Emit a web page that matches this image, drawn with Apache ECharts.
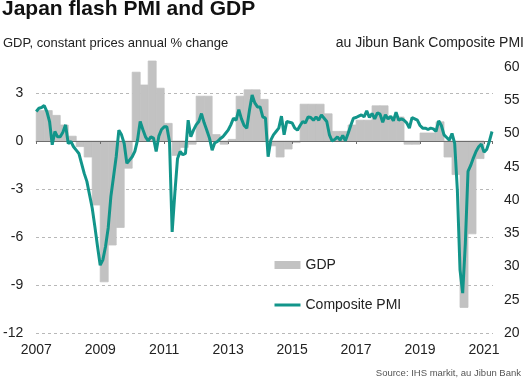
<!DOCTYPE html>
<html><head><meta charset="utf-8">
<script src="https://cdn.jsdelivr.net/npm/echarts@6/dist/echarts.min.js"></script>
<style>html,body{margin:0;padding:0;background:#fff}#c{width:531px;height:387px}</style>
</head><body><div id="c"></div>
<script>
// ---- texts ----
const chartTitle = 'Japan flash PMI and GDP';
const leftAxisTitle = 'GDP, constant prices annual % change';
const rightAxisTitle = 'au Jibun Bank Composite PMI';
const sourceText = 'Source: IHS markit, au Jibun Bank';
const gdpName = 'GDP';
const pmiName = 'Composite PMI';

// ---- time ----
const firstYear = 2007;           // PMI monthly from Jan 2007, GDP quarterly from 2007 Q1
const yearTicks = [2007, 2009, 2011, 2013, 2015, 2017, 2019, 2021];

// ---- axis ticks ----
const gdpTicks = [-12, -9, -6, -3, 0, 3];
const pmiTicks = [20, 25, 30, 35, 40, 45, 50, 55, 60];

// ---- GDP, constant prices annual % change (quarterly) ----
const gdpValues = [
  1.9, 1.9, 1.6, 1.0,      // 2007
  0.3, -0.35, -1.0, -4.0,  // 2008
  -8.8, -6.5, -5.4, -1.7,  // 2009
  4.3, 3.5, 5.0, 3.3,      // 2010
  1.1, -0.9, -0.4, -0.2,   // 2011
  2.8, 2.8, 0.4, -0.2,     // 2012
  0.1, 2.8, 3.2, 3.2,      // 2013
  2.6, -0.3, -1.0, -0.5,   // 2014
  -0.1, 2.3, 2.3, 2.3,     // 2015
  1.7, 0.6, 0.6, 1.0,      // 2016
  1.3, 1.3, 2.2, 2.2,      // 2017
  1.5, 1.5, -0.2, -0.2,    // 2018
  0.5, 0.5, 1.2, -1.0,     // 2019
  -2.1, -10.4, -5.8, -1.1  // 2020
];

// ---- au Jibun Bank Composite PMI (monthly) ----
const pmiValues = [
  53.3, 53.8, 53.9, 54.2, 53.3, 51.8, 48.3, 50.3, 49.5, 49.5, 50.2, 51.3, // 2007
  48.5, 48.8, 48.0, 47.5, 47.0, 45.5, 44.0, 42.8, 40.8, 38.8, 36.0, 33.0, // 2008
  30.2, 31.0, 33.0, 35.8, 40.5, 43.5, 46.5, 50.5, 49.8, 48.5, 45.5, 46.0, // 2009
  46.5, 47.3, 49.0, 51.8, 50.6, 49.5, 48.9, 49.5, 49.3, 47.3, 49.6, 50.6, // 2010
  51.0, 51.0, 48.8, 35.2, 41.0, 46.2, 47.3, 46.8, 47.0, 52.0, 49.5, 50.5, // 2011
  51.3, 51.8, 53.0, 51.6, 50.5, 49.3, 47.5, 48.6, 48.8, 49.2, 49.5, 50.0, // 2012
  50.5, 51.3, 52.3, 52.0, 53.6, 52.2, 51.2, 50.8, 53.5, 55.8, 54.6, 54.0, // 2013
  54.0, 52.5, 52.3, 46.5, 49.0, 49.8, 50.3, 50.8, 52.6, 49.8, 51.8, 51.7, // 2014
  51.6, 50.8, 50.5, 51.2, 51.8, 51.6, 52.5, 52.4, 52.0, 52.5, 52.0, 52.8, // 2015
  52.3, 51.8, 49.8, 48.9, 49.1, 49.5, 49.0, 49.7, 48.9, 50.0, 51.2, 52.3, // 2016
  52.4, 52.6, 52.8, 52.5, 53.4, 52.4, 53.0, 52.2, 53.1, 52.9, 51.7, 52.8, // 2017
  52.2, 52.6, 51.9, 53.2, 52.0, 52.2, 52.0, 51.6, 50.8, 52.4, 52.2, 52.0, // 2018
  51.2, 50.8, 50.8, 50.6, 50.8, 50.7, 50.3, 51.9, 51.2, 49.8, 49.4, 49.0, // 2019
  50.0, 48.5, 41.5, 29.5, 26.0, 33.5, 44.3, 45.2, 46.3, 47.3, 48.0, 48.4, // 2020
  47.2, 47.6, 48.8, 50.3                                                  // 2021
];

// ---- build library data ----
const pmiData = pmiValues.map((v, i) => [firstYear + i / 12, v]);
const gdpData = gdpValues.map((v, i) => [firstYear + i / 4, firstYear + (i + 1) / 4, v]);
const xMin = yearTicks[0];
const xMax = firstYear + (pmiValues.length - 1) / 12;

const FONT = '"Liberation Sans", Arial, sans-serif';
const TXT = '#222';
const GDP_COLOR = '#c2c2c2';
const PMI_COLOR = '#12958a';

const chart = echarts.init(document.getElementById('c'), null, {renderer: 'canvas'});
chart.setOption({
  animation: false,
  backgroundColor: '#fff',
  textStyle: {fontFamily: FONT},
  title: [
    {text: chartTitle, left: 2, top: -1, padding: 0,
     textStyle: {fontSize: 21, fontWeight: 'bold', color: '#111', fontFamily: FONT}},
    {text: leftAxisTitle, left: 3, top: 37, padding: 0,
     textStyle: {fontSize: 13, fontWeight: 'normal', color: TXT, fontFamily: FONT}},
    {text: rightAxisTitle, right: 7, top: 36, padding: 0,
     textStyle: {fontSize: 14, fontWeight: 'normal', color: TXT, fontFamily: FONT}},
    {text: sourceText, right: 10, top: 368, padding: 0,
     textStyle: {fontSize: 9.5, fontWeight: 'normal', color: '#555', fontFamily: FONT}}
  ],
  legend: {
    orient: 'vertical', left: 273, top: 258, padding: 0,
    itemWidth: 26, itemHeight: 8, itemGap: 26, itemTextGap: 4,
    selectedMode: false,
    textStyle: {fontSize: 14, color: TXT, fontFamily: FONT},
    data: [
      {name: gdpName, icon: 'rect', itemStyle: {color: GDP_COLOR}},
      {name: pmiName, itemStyle: {opacity: 0}, lineStyle: {width: 3, color: PMI_COLOR}}
    ]
  },
  grid: [
    {left: 36, right: 39, top: 61, bottom: 54, containLabel: false},
    {left: 36, right: 38, top: 93, bottom: 54, containLabel: false}
  ],
  xAxis: [
    { // zero line with ticks
      type: 'value', gridIndex: 0, min: xMin, max: xMax, interval: 2, z: 2,
      axisLine: {show: true, onZero: true, onZeroAxisIndex: 0, lineStyle: {color: '#6e6e6e', width: 1}},
      axisTick: {show: true, length: 3, lineStyle: {color: '#6e6e6e'}},
      axisLabel: {show: false}, splitLine: {show: false}
    },
    { // year labels at bottom
      type: 'value', gridIndex: 0, position: 'bottom', min: xMin, max: xMax, interval: 2,
      axisLine: {show: false, onZero: false}, axisTick: {show: false}, splitLine: {show: false},
      axisLabel: {show: true, margin: 10, fontSize: 14, color: TXT, fontFamily: FONT,
                  showMaxLabel: false, formatter: v => String(Math.round(v))}
    },
    { type: 'value', gridIndex: 1, min: xMin, max: xMax, show: false }
  ],
  yAxis: [
    { // GDP (left)
      type: 'value', gridIndex: 0, position: 'left', min: gdpTicks[0], max: 5, interval: 3,
      axisLine: {show: false}, axisTick: {show: false}, splitLine: {show: false},
      axisLabel: {margin: 13, fontSize: 14, color: TXT, fontFamily: FONT, showMaxLabel: false,
                  formatter: v => String(v)}
    },
    { // PMI (right)
      type: 'value', gridIndex: 0, position: 'right', min: pmiTicks[0], max: 60.9, interval: 5,
      axisLine: {show: false}, axisTick: {show: false}, splitLine: {show: false},
      axisLabel: {margin: 12, fontSize: 14, color: TXT, fontFamily: FONT, showMaxLabel: false,
                  formatter: v => String(v)}
    },
    { // dashed gridlines at GDP ticks
      type: 'value', gridIndex: 1, min: gdpTicks[0], max: gdpTicks[gdpTicks.length - 1], interval: 3,
      axisLine: {show: false}, axisTick: {show: false}, axisLabel: {show: false},
      splitLine: {show: true, lineStyle: {color: '#b8b8b8', type: [3, 3], width: 1}}
    }
  ],
  series: [
    {
      name: gdpName, type: 'custom', xAxisIndex: 0, yAxisIndex: 0, z: 1,
      itemStyle: {color: GDP_COLOR},
      encode: {x: [0, 1], y: 2},
      data: gdpData,
      renderItem: function (params, api) {
        const a = api.coord([api.value(0), api.value(2)]);
        const b = api.coord([api.value(1), 0]);
        return {
          type: 'rect',
          shape: {x: a[0], y: Math.min(a[1], b[1]), width: b[0] - a[0], height: Math.abs(b[1] - a[1])},
          style: {fill: GDP_COLOR, stroke: GDP_COLOR, lineWidth: 0.8}
        };
      }
    },
    {
      name: pmiName, type: 'line', xAxisIndex: 0, yAxisIndex: 1, z: 3,
      symbol: 'none', smooth: false,
      lineStyle: {color: PMI_COLOR, width: 3},
      itemStyle: {color: PMI_COLOR},
      data: pmiData
    }
  ]
});
</script>
</body></html>
